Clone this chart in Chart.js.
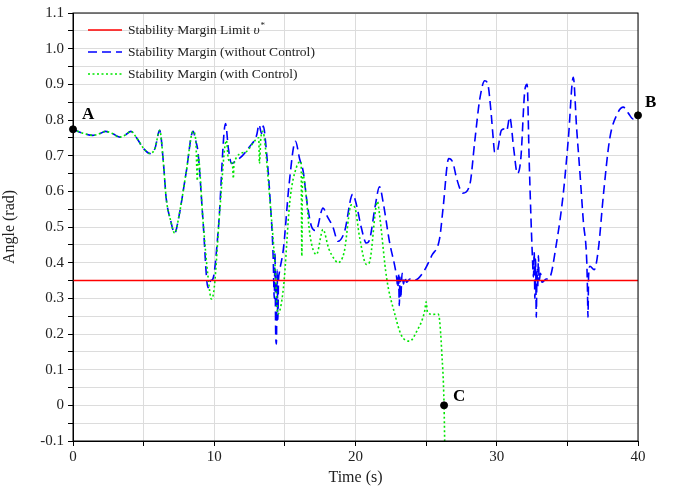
<!DOCTYPE html>
<html>
<head>
<meta charset="utf-8">
<script src="https://cdn.jsdelivr.net/npm/chart.js@4.4.1/dist/chart.umd.min.js"></script>
<style>
  html, body { margin: 0; padding: 0; background: #fff; }
  #wrap { width: 673px; height: 487px; }
</style>
</head>
<body>
<div id="wrap"><canvas id="chart" width="673" height="487"></canvas></div>
<script>
const SERIF = '"Liberation Serif", "Times New Roman", serif';

// stability limit
const limitTime = [0, 40];
const limitAngle = [0.35, 0.35];

// without control (blue dashed)
const blueTime = [0, 0.7, 1.4, 1.9, 2.3, 2.8, 3.3, 3.7, 4.1, 4.5, 5.0, 5.45, 5.8, 6.14, 6.4, 6.6, 6.9, 7.2, 7.5, 8.0,
  8.5, 8.7, 8.85, 9.2, 9.56, 9.75, 9.9, 10.3, 10.8, 11.0, 11.23, 11.45, 12.0, 12.5, 13.0, 13.17, 13.35, 13.47, 13.7, 13.95,
  14.17, 14.25, 14.3, 14.35, 14.4, 14.45, 14.5, 14.55, 14.6, 14.9, 15.3, 15.75, 16.05, 16.3, 16.6, 16.9, 17.2, 17.7, 18.0, 18.4,
  18.76, 19.23, 19.8, 20.07, 20.4, 20.77, 21.0, 21.4, 21.7, 21.95, 22.4, 22.9, 23.0, 23.05, 23.1, 23.15, 23.2, 23.3, 23.4, 23.5,
  23.6, 23.85, 24.1, 24.45, 24.9, 25.4, 25.96, 26.2, 26.6, 26.9, 27.16, 27.6, 28.1, 28.44, 28.8, 29.15, 29.37, 29.6, 29.75, 29.85,
  30.0, 30.33, 30.55, 30.7, 30.92, 31.2, 31.46, 31.7, 32.0, 32.15, 32.3, 32.52, 32.6, 32.65, 32.7, 32.75, 32.8, 32.85, 32.9, 32.95,
  33.0, 33.1, 33.2, 33.5, 33.7, 34.25, 34.7, 35.07, 35.42, 35.65, 35.9, 36.13, 36.37, 36.42, 36.46, 36.5, 36.6, 36.9, 37.2, 37.55,
  38.0, 38.53, 38.96, 39.3, 39.66, 40];
const blueAngle = [0.774, 0.763, 0.757, 0.762, 0.768, 0.762, 0.752, 0.758, 0.768, 0.75, 0.72, 0.706, 0.72, 0.771, 0.68, 0.58, 0.52, 0.483, 0.53, 0.65,
  0.768, 0.74, 0.71, 0.52, 0.33, 0.35, 0.354, 0.5, 0.79, 0.72, 0.678, 0.683, 0.70, 0.725, 0.757, 0.787, 0.762, 0.783, 0.71, 0.58,
  0.418, 0.30, 0.43, 0.20, 0.172, 0.38, 0.24, 0.35, 0.37, 0.44, 0.62, 0.74, 0.69, 0.655, 0.56, 0.50, 0.49, 0.553, 0.53, 0.50,
  0.46, 0.488, 0.592, 0.562, 0.50, 0.455, 0.465, 0.56, 0.613, 0.571, 0.46, 0.363, 0.33, 0.37, 0.28, 0.36, 0.30, 0.37, 0.34, 0.36,
  0.345, 0.354, 0.35, 0.356, 0.38, 0.42, 0.469, 0.553, 0.692, 0.68, 0.636, 0.595, 0.62, 0.739, 0.859, 0.91, 0.90, 0.82, 0.748, 0.71,
  0.71, 0.771, 0.775, 0.77, 0.808, 0.72, 0.65, 0.69, 0.887, 0.90, 0.68, 0.42, 0.36, 0.43, 0.30, 0.41, 0.247, 0.38, 0.33, 0.42,
  0.35, 0.37, 0.345, 0.354, 0.355, 0.46, 0.59, 0.748, 0.92, 0.78, 0.646, 0.516, 0.405, 0.33, 0.247, 0.36, 0.39, 0.38, 0.44, 0.59,
  0.748, 0.817, 0.836, 0.82, 0.803, 0.813];

// with control (green dotted)
const greenTime = [0, 0.7, 1.4, 1.9, 2.3, 2.8, 3.3, 3.7, 4.1, 4.5, 5.0, 5.45, 5.8, 6.14, 6.4, 6.6, 6.9, 7.2, 7.5, 8.0,
  8.5, 8.7, 8.8, 8.85, 9.2, 9.56, 9.8, 10.0, 10.4, 10.86, 11.0, 11.3, 11.35, 11.4, 12.2, 12.9, 13.15, 13.2, 13.3, 13.45,
  13.6, 13.95, 14.3, 14.5, 14.9, 15.35, 15.83, 16.15, 16.2, 16.25, 16.5, 16.77, 17.24, 17.7, 18.1, 18.5, 18.76, 19.2, 19.7, 19.95,
  20.3, 20.77, 20.98, 21.56, 21.7, 22.2, 22.78, 23.25, 23.84, 24.3, 24.9, 25.0, 25.1, 25.5, 25.85, 25.95, 26.1, 26.27, 26.32];
const greenAngle = [0.774, 0.763, 0.757, 0.762, 0.768, 0.762, 0.752, 0.758, 0.768, 0.75, 0.72, 0.706, 0.72, 0.771, 0.68, 0.58, 0.52, 0.483, 0.53, 0.65,
  0.768, 0.74, 0.63, 0.70, 0.52, 0.36, 0.298, 0.33, 0.55, 0.743, 0.69, 0.67, 0.636, 0.68, 0.71, 0.743, 0.75, 0.678, 0.75, 0.768,
  0.73, 0.571, 0.395, 0.256, 0.33, 0.571, 0.669, 0.683, 0.418, 0.65, 0.59, 0.479, 0.423, 0.493, 0.44, 0.41, 0.40, 0.43, 0.562, 0.555,
  0.469, 0.395, 0.40, 0.571, 0.535, 0.358, 0.256, 0.196, 0.18, 0.205, 0.265, 0.29, 0.26, 0.255, 0.256, 0.24, 0.154, 0.0, -0.12];

// labelled points
const markerNames = ['A', 'B', 'C'];
const markerTime = [0, 40, 26.27];
const markerAngle = [0.774, 0.813, 0.0];

function pairs(ts, vs) {
  return ts.map((t, i) => ({ x: t, y: vs[i] }));
}

const frame = {
  id: 'frame',
  afterDatasetsDraw(chart) {
    const { ctx, chartArea: a } = chart;
    ctx.save();
    ctx.strokeStyle = '#000';
    ctx.lineWidth = 1;
    ctx.strokeRect(a.left, a.top, a.right - a.left, a.bottom - a.top);
    ctx.restore();
  }
};

const legendBox = {
  id: 'legendBox',
  afterDatasetsDraw(chart) {
    const { ctx, chartArea: a } = chart;
    const size = 13.5;
    ctx.save();
    ctx.textBaseline = 'middle';
    ctx.fillStyle = '#222';
    chart.data.datasets.slice(0, 3).forEach((ds, i) => {
      const y = a.top + 17 + i * 22;
      ctx.strokeStyle = ds.borderColor;
      ctx.lineWidth = 1.5;
      ctx.setLineDash(ds.borderDash || []);
      ctx.beginPath();
      ctx.moveTo(a.left + 15, y);
      ctx.lineTo(a.left + 49, y);
      ctx.stroke();
      ctx.setLineDash([]);
      const x = a.left + 55;
      ctx.font = size + 'px ' + SERIF;
      if (ds.label.endsWith('υ*')) {
        const base = ds.label.slice(0, -2);
        ctx.fillText(base, x, y);
        let w = ctx.measureText(base).width;
        ctx.font = 'italic ' + size + 'px ' + SERIF;
        ctx.fillText('υ', x + w, y);
        w += ctx.measureText('υ').width + 1;
        ctx.font = '9px ' + SERIF;
        ctx.fillText('*', x + w, y - 4);
      } else {
        ctx.fillText(ds.label, x, y);
      }
    });
    ctx.restore();
  }
};

const markerLabels = {
  id: 'markerLabels',
  afterDatasetsDraw(chart) {
    const { ctx } = chart;
    const meta = chart.getDatasetMeta(3);
    const offsets = [[9, -15], [7, -13], [9, -9]];
    ctx.save();
    ctx.font = 'bold 17px ' + SERIF;
    ctx.fillStyle = '#000';
    ctx.textBaseline = 'middle';
    ctx.textAlign = 'left';
    meta.data.forEach((pt, i) => {
      ctx.fillText(markerNames[i], pt.x + offsets[i][0], pt.y + offsets[i][1]);
    });
    ctx.restore();
  }
};

new Chart(document.getElementById('chart').getContext('2d'), {
  type: 'line',
  data: {
    datasets: [
      {
        label: 'Stability Margin Limit υ*',
        data: pairs(limitTime, limitAngle),
        borderColor: '#ff0000',
        borderWidth: 1.5,
        order: 0
      },
      {
        label: 'Stability Margin (without Control)',
        data: pairs(blueTime, blueAngle),
        borderColor: '#0000ff',
        borderDash: [9, 5],
        borderWidth: 1.6,
        cubicInterpolationMode: 'monotone',
        order: 2
      },
      {
        label: 'Stability Margin (with Control)',
        data: pairs(greenTime, greenAngle),
        borderColor: '#00e600',
        borderDash: [2, 2.5],
        borderWidth: 1.6,
        cubicInterpolationMode: 'monotone',
        order: 1
      },
      {
        label: 'points',
        data: pairs(markerTime, markerAngle),
        showLine: false,
        pointRadius: 3.5,
        pointBackgroundColor: '#000',
        pointBorderColor: '#000',
        clip: false,
        order: -1
      }
    ]
  },
  options: {
    responsive: false,
    devicePixelRatio: 1,
    animation: false,
    elements: { point: { radius: 0 }, line: { tension: 0 } },
    layout: { padding: { top: 10, right: 35, left: 0, bottom: 0 } },
    plugins: {
      legend: { display: false },
      tooltip: { enabled: false }
    },
    scales: {
      x: {
        type: 'linear',
        min: 0,
        max: 40,
        afterFit(s) { s.height = 46; },
        grid: { color: '#dcdcdc', tickColor: '#000', tickLength: 5 },
        border: { color: '#000', width: 1 },
        ticks: {
          stepSize: 5,
          autoSkip: false,
          maxRotation: 0,
          padding: 2,
          color: '#222',
          font: { family: SERIF, size: 15 },
          callback: v => (v % 10 === 0 ? String(v) : '')
        },
        title: {
          display: true,
          text: 'Time (s)',
          color: '#222',
          font: { family: SERIF, size: 16 },
          padding: { top: 0, bottom: 0 }
        }
      },
      y: {
        min: -0.1,
        max: 1.1,
        afterFit(s) { s.width = 73; },
        grid: { color: '#dcdcdc', tickColor: '#000', tickLength: 5 },
        border: { color: '#000', width: 1 },
        ticks: {
          stepSize: 0.05,
          autoSkip: false,
          padding: 4,
          color: '#222',
          font: { family: SERIF, size: 15 },
          callback: v => {
            const k = Math.round(v * 100);
            if (k % 10 !== 0) return '';
            return k === 0 ? '0' : (k / 100).toFixed(1);
          }
        },
        title: {
          display: true,
          text: 'Angle (rad)',
          color: '#222',
          font: { family: SERIF, size: 16 },
          padding: { top: 0, bottom: 4 }
        }
      }
    }
  },
  plugins: [frame, legendBox, markerLabels]
});
</script>
</body>
</html>
